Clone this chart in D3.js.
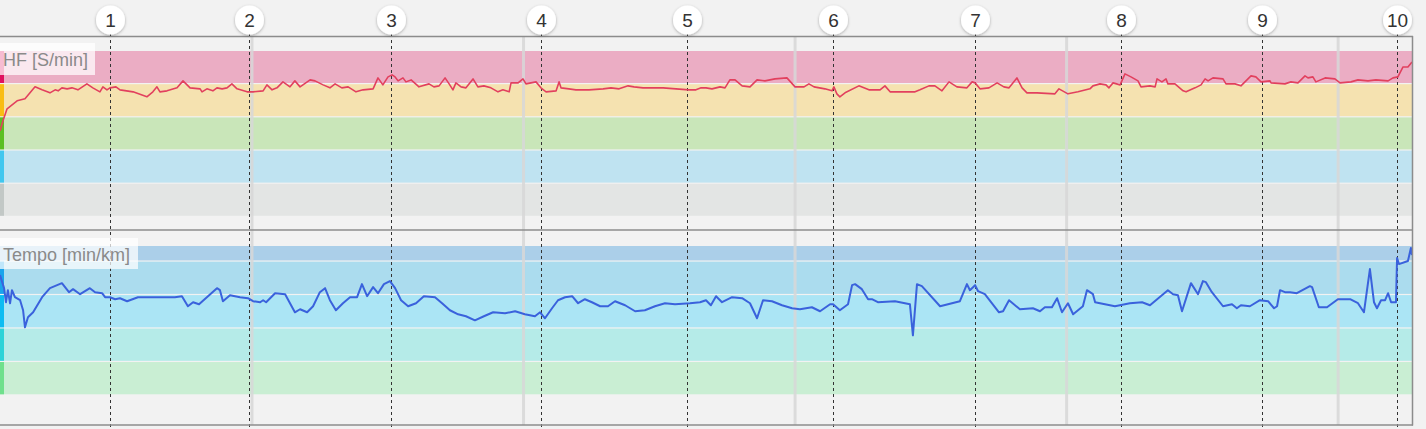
<!DOCTYPE html>
<html>
<head>
<meta charset="utf-8">
<script src="https://cdn.jsdelivr.net/npm/d3@7"></script>
<style>
  html, body { margin: 0; padding: 0; background: #f2f2f2; }
  svg { display: block; }
</style>
</head>
<body>
<div id="chart"></div>
<script>
// ---------- DATA ----------
// elapsed time (minutes) where each km is completed
const kmLabels = ["1","2","3","4","5","6","7","8","9","10"];
const kmTimes = [4.05, 9.17, 14.40, 19.92, 25.30, 30.68, 35.91, 41.28, 46.48, 51.45];
// time grid lines (minutes)
const gridTimes = [9.28, 19.28, 29.28, 39.28, 49.28];

// heart-rate zones (bpm) and colours
const hfZones = [100, 120, 140, 160, 180, 200];
const hfZoneColors = ["#e3e5e4", "#bfe3f1", "#c9e6b9", "#f5e2b0", "#ebadc4"];
const hfStripColors = ["#c2c8c6", "#41c7ef", "#5cbf22", "#f9bd14", "#e0115f"];

// pace zones (seconds per km), slow -> fast
const paceZones = [405, 375, 345, 315, 285, 271];
const paceZoneColors = ["#c9eed3", "#b5ebe8", "#abe5f5", "#abdcee", "#abcfe9"];
const paceStripColors = ["#6fe08c", "#2dd3d8", "#0cbcf2", "#1aa4ec", "#abcfe9"];

// heart rate series: time (min), bpm
const hfTime = [0.00,0.11,0.26,0.63,0.92,1.29,1.55,1.84,2.03,2.14,2.28,2.47,2.65,2.87,3.20,3.42,3.68,3.79,3.94,4.05,4.27,4.42,4.90,5.41,5.63,5.78,5.89,6.15,6.52,6.74,7.00,7.37,7.44,7.62,7.84,7.99,8.18,8.36,8.54,8.73,9.10,9.32,9.69,9.83,10.02,10.20,10.42,10.68,10.86,11.05,11.42,11.60,11.90,12.15,12.34,12.59,12.82,13.11,13.37,13.74,13.92,14.10,14.29,14.44,14.55,14.66,14.84,14.95,15.14,15.43,15.80,15.98,16.17,16.39,16.54,16.68,16.79,16.98,17.16,17.42,17.60,17.82,18.08,18.34,18.52,18.75,18.82,19.08,19.26,19.37,19.74,19.92,20.11,20.48,20.59,20.66,20.95,21.21,21.69,22.21,22.50,22.80,23.13,23.35,23.68,24.42,25.37,25.63,25.82,26.00,26.22,26.52,26.70,26.88,27.07,27.33,27.62,27.88,28.17,28.54,28.98,29.28,29.61,29.79,29.98,30.38,30.64,30.71,30.82,30.93,31.12,31.63,32.00,32.41,32.59,32.78,33.22,33.70,33.88,34.21,34.43,34.69,34.95,35.24,35.61,35.80,35.91,36.09,36.42,36.72,36.97,37.16,37.45,37.64,37.82,38.19,38.85,39.00,39.33,39.70,40.14,40.25,40.51,40.73,40.84,40.99,41.25,41.43,41.65,41.91,42.02,42.35,42.54,42.61,42.79,42.94,43.01,43.27,43.57,43.68,44.01,44.23,44.38,44.49,44.67,45.04,45.15,45.48,45.70,46.07,46.25,46.44,46.77,46.81,47.32,47.54,47.80,48.06,48.17,48.35,48.46,48.80,49.16,49.35,49.75,50.01,50.38,50.67,51.12,51.30,51.48,51.67,51.85,52.00];
const hfBpm = [152.0,158.0,165.2,170.0,171.2,178.4,176.6,174.8,176.6,176.0,177.8,177.2,177.8,176.6,180.2,177.8,175.4,178.4,176.6,177.8,178.4,176.6,175.4,172.4,175.4,178.4,175.4,176.0,177.8,182.0,177.8,177.2,175.4,177.2,176.0,177.8,177.2,177.8,180.2,177.2,175.4,175.4,176.0,179.6,176.6,177.8,181.4,178.4,182.0,178.4,182.6,182.0,179.6,177.8,180.2,177.8,178.4,175.4,176.6,177.2,183.8,179.6,184.4,185.6,184.4,182.0,183.8,181.4,182.6,178.4,180.2,178.4,179.0,183.8,180.2,176.6,180.8,178.4,177.8,183.2,178.4,179.0,177.8,175.4,176.6,175.4,180.8,180.8,183.2,180.2,181.4,177.8,175.4,176.0,181.4,177.8,177.2,176.6,176.6,177.2,177.8,177.2,179.0,178.4,177.8,177.8,176.6,176.6,177.8,177.8,177.2,178.4,177.8,182.6,182.6,179.0,178.4,182.6,182.0,183.2,183.8,178.4,178.4,180.2,178.4,177.2,176.0,178.4,174.2,172.4,174.8,179.0,176.6,176.6,179.0,175.4,175.4,175.4,176.6,179.0,179.0,176.0,181.4,178.4,177.8,181.4,180.8,177.2,177.8,180.8,178.4,177.8,183.8,177.8,174.8,174.8,174.2,177.2,174.2,175.4,177.2,179.0,180.2,179.6,177.8,180.8,179.6,186.2,184.4,182.0,178.4,179.0,178.4,183.2,181.4,183.2,180.2,180.2,176.0,175.4,177.8,179.6,183.2,182.0,183.8,183.2,180.2,180.2,179.0,185.0,184.4,181.4,182.0,180.8,180.2,181.4,180.8,185.0,183.8,184.4,181.4,183.8,183.2,180.8,181.4,182.6,182.0,182.6,182.0,183.8,184.4,190.4,190.4,193.4];

// pace series: time (min), pace (s/km)
const paceTime = [
  0.00,0.15,0.22,0.29,0.37,0.44,0.55,0.74,0.85,0.92,1.03,1.22,1.55,1.84,2.28,2.54,2.69,2.95,3.31,3.50,3.76,3.87,4.05,4.24,4.42,4.68,5.08,6.44,6.70,6.92,7.11,7.33,7.99,8.10,8.21,8.47,8.84,9.13,9.32,9.58,9.69,9.80,10.13,10.50,10.86,11.05,
  11.31,11.53,11.78,11.97,12.15,12.37,12.63,12.89,13.15,13.33,13.52,13.74,13.92,14.14,14.36,14.55,14.77,15.03,15.32,15.61,16.02,16.28,16.57,16.87,17.16,17.49,17.82,18.16,18.60,18.97,19.33,19.70,19.89,20.07,20.33,20.55,20.81,21.07,21.29,21.54,21.80,22.10,22.39,22.65,23.02,23.39,23.75,24.12,24.49,24.86,25.41,25.78,26.00,26.18,26.37,26.59,26.96,27.33,27.62,27.88,28.10,28.43,28.80,29.17,
  29.46,29.90,30.20,30.57,30.68,30.93,31.23,31.38,31.49,31.74,31.97,32.11,32.33,32.96,33.51,33.62,33.77,33.95,34.62,35.35,35.61,35.72,35.91,36.02,36.27,36.79,36.94,37.16,37.56,38.04,38.30,38.48,38.74,38.93,39.11,39.33,39.52,39.88,40.03,40.25,40.33,40.51,
  41.06,41.61,42.06,
  42.35,43.01,43.20,43.38,43.53,43.86,44.12,44.30,44.41,44.63,45.04,45.37,45.55,45.70,46.03,46.40,46.70,46.92,47.03,47.14,47.32,47.51,47.76,48.24,48.32,48.57,48.87,49.27,49.72,50.01,50.23,50.45,50.60,50.71,50.86,51.01,51.12,51.23,51.41,51.45,51.52,51.85,51.96,52.00];
const paceSec = [
  297.1,308.8,321.4,310.6,322.3,310.6,316.9,319.6,328.6,343.9,334.9,330.4,316.9,308.8,304.3,312.4,309.7,314.2,308.8,312.4,313.3,316.9,316.9,318.7,317.8,320.5,316.9,316.9,316.0,325.0,321.4,323.2,308.8,310.6,320.5,315.1,316.9,317.8,320.5,321.4,319.6,321.4,313.3,314.2,330.4,327.7,
  330.4,325.0,312.4,308.8,319.6,328.6,322.3,316.9,316.9,305.2,316.0,307.9,313.3,305.2,302.5,308.8,319.6,325.0,322.3,316.0,316.9,322.3,328.6,332.2,334.0,337.6,334.0,330.4,331.3,329.5,332.2,334.0,330.4,335.8,326.8,319.6,316.9,316.0,322.3,318.7,321.4,325.0,325.0,320.5,324.1,329.5,328.6,325.0,322.3,323.2,322.3,321.4,319.6,324.1,316.0,321.4,316.9,317.8,322.3,335.8,319.6,320.5,324.1,326.8,
  327.7,325.9,329.5,323.2,323.2,328.6,323.2,306.1,305.2,309.7,318.7,318.7,321.4,320.5,323.2,351.1,305.2,307.0,325.0,320.5,305.2,310.6,306.1,311.5,314.2,330.4,329.5,319.6,327.7,326.8,329.5,325.9,325.9,317.8,330.4,322.3,332.2,325.0,310.6,314.2,321.4,322.3,
  325.0,322.3,321.4,
  324.1,310.6,314.2,315.1,329.5,304.3,314.2,302.5,303.4,312.4,325.0,323.2,326.8,324.1,325.0,319.6,320.5,326.8,325.0,310.6,312.4,312.4,313.3,307.0,307.9,325.9,325.9,318.7,318.7,322.3,330.4,291.7,321.4,326.8,319.6,319.6,313.3,321.4,321.4,281.8,287.2,284.5,272.8,279.1];

// ---------- LAYOUT ----------
const W = 1426, H = 429;
const plotRight = 1412;
const svg = d3.select("#chart").append("svg").attr("width", W).attr("height", H);
svg.append("rect").attr("width", W).attr("height", H).attr("fill", "#f2f2f2");

const x = d3.scaleLinear().domain([0, 52]).range([0, plotRight]);
const yHF = d3.scaleLinear().domain([100, 200]).range([217, 51]);
const yPace = d3.scaleLinear().domain([271, 405]).range([246, 395.5]);

const defs = svg.append("defs");
const sh = defs.append("filter").attr("id", "shadow").attr("x", "-50%").attr("y", "-50%").attr("width", "200%").attr("height", "200%");
sh.append("feDropShadow").attr("dx", 0).attr("dy", 1).attr("stdDeviation", 1.5).attr("flood-color", "#000").attr("flood-opacity", 0.3);
defs.append("clipPath").attr("id", "clipHF").append("rect").attr("x", 0).attr("y", 37).attr("width", plotRight).attr("height", 192);
defs.append("clipPath").attr("id", "clipPace").append("rect").attr("x", 0).attr("y", 231).attr("width", plotRight).attr("height", 193);

// zone bands
function drawBands(zones, colors, strips, yS) {
  const g = svg.append("g");
  for (let i = 0; i < zones.length - 1; i++) {
    const y0 = yS(zones[i]), y1 = yS(zones[i + 1]);
    const top = Math.min(y0, y1), h = Math.abs(y0 - y1) - 1.2;
    g.append("rect").attr("x", 0).attr("y", top).attr("width", plotRight).attr("height", h).attr("fill", colors[i]);
    g.append("rect").attr("x", 0).attr("y", top).attr("width", 4).attr("height", h).attr("fill", strips[i]);
  }
}
drawBands(hfZones, hfZoneColors, hfStripColors, yHF);
drawBands(paceZones, paceZoneColors, paceStripColors, yPace);

// time grid lines
svg.append("g").selectAll("line").data(gridTimes).join("line")
  .attr("x1", d => x(d)).attr("x2", d => x(d))
  .attr("y1", 37).attr("y2", 425)
  .attr("stroke", "#d8d8d8").attr("stroke-width", 3).attr("opacity", 0.85);

// km dashed lines
svg.append("g").selectAll("line").data(kmTimes).join("line")
  .attr("x1", d => Math.round(x(d)) + 0.5).attr("x2", d => Math.round(x(d)) + 0.5)
  .attr("y1", 34).attr("y2", H)
  .attr("stroke", "#333").attr("stroke-width", 1).attr("stroke-dasharray", "3,3");

// lines
const hfData = hfTime.map((t, i) => [t, hfBpm[i]]);
const paceData = paceTime.map((t, i) => [t, paceSec[i]]);
svg.append("path").datum(hfData)
  .attr("clip-path", "url(#clipHF)")
  .attr("d", d3.line().x(d => x(d[0])).y(d => yHF(d[1])))
  .attr("fill", "none").attr("stroke", "#e2405e").attr("stroke-width", 1.6).attr("stroke-linejoin", "round");
svg.append("path").datum(paceData)
  .attr("clip-path", "url(#clipPace)")
  .attr("d", d3.line().x(d => x(d[0])).y(d => yPace(d[1])))
  .attr("fill", "none").attr("stroke", "#3a62dc").attr("stroke-width", 2).attr("stroke-linejoin", "round");

// panel borders
const border = svg.append("g").attr("stroke", "#8c8c8c").attr("stroke-width", 1.5);
[36.5, 230, 425].forEach(yy => border.append("line").attr("x1", 0).attr("x2", plotRight + 1).attr("y1", yy).attr("y2", yy));
border.append("line").attr("x1", plotRight + 0.5).attr("x2", plotRight + 0.5).attr("y1", 36).attr("y2", 425.5);

// panel labels
function label(txt, bx, by, bw, bh, ty) {
  svg.append("rect").attr("x", bx).attr("y", by).attr("width", bw).attr("height", bh).attr("fill", "#fff").attr("opacity", 0.72);
  svg.append("text").attr("x", 3).attr("y", ty).text(txt)
    .attr("font-family", "Liberation Sans, Arial, sans-serif").attr("font-size", 18).attr("fill", "#8a8a8a");
}
label("HF [S/min]", 0, 43, 95, 32, 66);
label("Tempo [min/km]", 0, 238, 138, 31, 261);

// km markers
const km = svg.append("g").selectAll("g").data(kmTimes).join("g")
  .attr("transform", d => `translate(${Math.round(x(d)) + 0.5},20)`);
km.append("circle").attr("r", 14.5).attr("fill", "#fff").attr("filter", "url(#shadow)");
km.append("text").text((d, i) => kmLabels[i])
  .attr("text-anchor", "middle").attr("dy", "0.36em")
  .attr("font-family", "Liberation Sans, Arial, sans-serif").attr("font-size", 19).attr("fill", "#333");
</script>
</body>
</html>
